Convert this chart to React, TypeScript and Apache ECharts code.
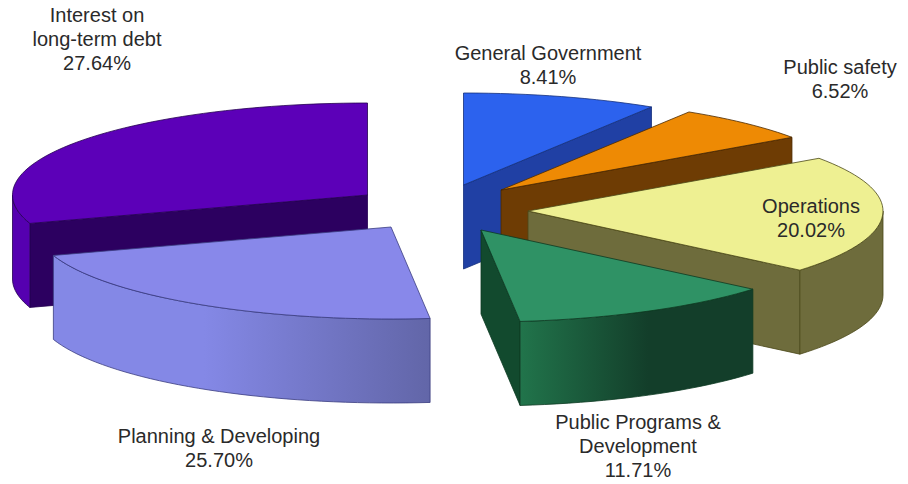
import React, { useEffect, useRef } from "react";
import * as echarts from "echarts";

const sliceLabels = [
  "General Government",
  "Public safety",
  "Operations",
  "Public Programs &\nDevelopment",
  "Planning & Developing",
  "Interest on\nlong-term debt",
];
const sharePercent = [8.41, 6.52, 20.02, 11.71, 25.7, 27.64];

// Back-to-front painting order of the slices.
const paintOrder = [5, 0, 1, 2, 3, 4];

// Foreshortening of the 3D view: degrees added to each slice's end boundary.
const boundaryNudge = [1.7, 1.3, 4.2, 5.7, -8.5, 0];

// Explosion: where each slice's apex lands on the page.
const apexX = [463.5, 501, 528, 481, 391, 367.5];
const apexY = [185, 190, 211, 230, 227, 195];

const topColors = ["#2c62ee", "#ee8a04", "#eef092", "#2f9265", "#8888ea", "#5c00b8"];
const faceColors = ["#2040a4", "#6e3c04", "#6e6c3c", "#124a2e", "#6468a8", "#2c0060"];
const wallFrom = ["#2040a4", "#6e3c04", "#6e6c3c", "#21744b", "#8488e6", "#5500b0"];
const wallTo = ["#2040a4", "#6e3c04", "#6e6c3c", "#133e2a", "#6266a8", "#5500b0"];
const wallFadeStart = [0, 0, 0, 0, 0.4, 0];
const wallFadeEnd = [1, 1, 1, 0.55, 1, 1];
const edgeColors = ["#14307c", "#4a2800", "#4a4818", "#0c3a22", "#3a3c80", "#240050"];

const labelX = [548, 840, 811, 638, 219, 97];
const labelY = [65, 79, 217.5, 446, 447.5, 39];

const RX = 355;
const RY = 92;
const DEPTH = 84;
const rad = Math.PI / 180;

const total = sharePercent.reduce((a, b) => a + b, 0);
const boundaries: number[] = [0];
{
  let run = 0;
  sharePercent.forEach((v, i) => {
    run += v;
    boundaries.push((run / total) * 360 + boundaryNudge[i]);
  });
}

function rimPoint(ax: number, ay: number, deg: number, drop = 0): number[] {
  return [ax + RX * Math.sin(deg * rad), ay - RY * Math.cos(deg * rad) + drop];
}

function arc(ax: number, ay: number, from: number, to: number, drop = 0): number[][] {
  const n = Math.max(2, Math.ceil(Math.abs(to - from) / 2));
  const pts: number[][] = [];
  for (let k = 0; k <= n; k++) pts.push(rimPoint(ax, ay, from + ((to - from) * k) / n, drop));
  return pts;
}

function renderSlice(_params: any, api: any) {
  const i = api.value(1) as number;
  const a1 = boundaries[i];
  const a2 = boundaries[i + 1];
  const ax = apexX[i];
  const ay = apexY[i];
  const edge = { stroke: edgeColors[i], lineWidth: 0.8 };
  const children: any[] = [];

  const face = (deg: number) => {
    const p = rimPoint(ax, ay, deg);
    children.push({
      type: "polygon",
      shape: { points: [[ax, ay], p, [p[0], p[1] + DEPTH], [ax, ay + DEPTH]] },
      style: { fill: faceColors[i], ...edge },
    });
  };
  if (Math.sin(a1 * rad) < -1e-6) face(a1);
  if (Math.sin(a2 * rad) > 1e-6) face(a2);

  const w1 = Math.max(a1, 90);
  const w2 = Math.min(a2, 270);
  if (w2 > w1) {
    const top = arc(ax, ay, w1, w2);
    const bottom = arc(ax, ay, w2, w1, DEPTH);
    children.push({
      type: "polygon",
      shape: { points: [...top, ...bottom] },
      style: {
        fill: new echarts.graphic.LinearGradient(0, 0, 1, 0, [
          { offset: 0, color: wallFrom[i] },
          { offset: wallFadeStart[i], color: wallFrom[i] },
          { offset: wallFadeEnd[i], color: wallTo[i] },
          { offset: 1, color: wallTo[i] },
        ]),
        ...edge,
      },
    });
  }

  children.push({
    type: "polygon",
    shape: { points: [[ax, ay], ...arc(ax, ay, a1, a2)] },
    style: { fill: topColors[i], ...edge },
  });

  return { type: "group", children };
}

export default function App() {
  const ref = useRef<HTMLDivElement>(null);

  useEffect(() => {
    document.body.style.margin = "0";
    const chart = echarts.init(ref.current!, undefined, { renderer: "svg" });
    chart.setOption({
      animation: false,
      backgroundColor: "#ffffff",
      graphic: sliceLabels.map((name, i) => ({
        type: "text",
        x: labelX[i],
        y: labelY[i],
        z: 10,
        silent: true,
        style: {
          text: `${name}\n${sharePercent[i].toFixed(2)}%`,
          fontFamily: "Liberation Sans",
          fontSize: 20,
          lineHeight: 24,
          fill: "#2a2a2a",
          align: "center",
          verticalAlign: "middle",
        },
      })),
      series: [
        {
          type: "custom",
          coordinateSystem: "none",
          silent: true,
          renderItem: renderSlice,
          data: paintOrder.map((i) => ({ name: sliceLabels[i], value: [sharePercent[i], i] })),
        },
      ],
    });
    return () => chart.dispose();
  }, []);

  return <div ref={ref} style={{ width: 908, height: 484 }} />;
}
